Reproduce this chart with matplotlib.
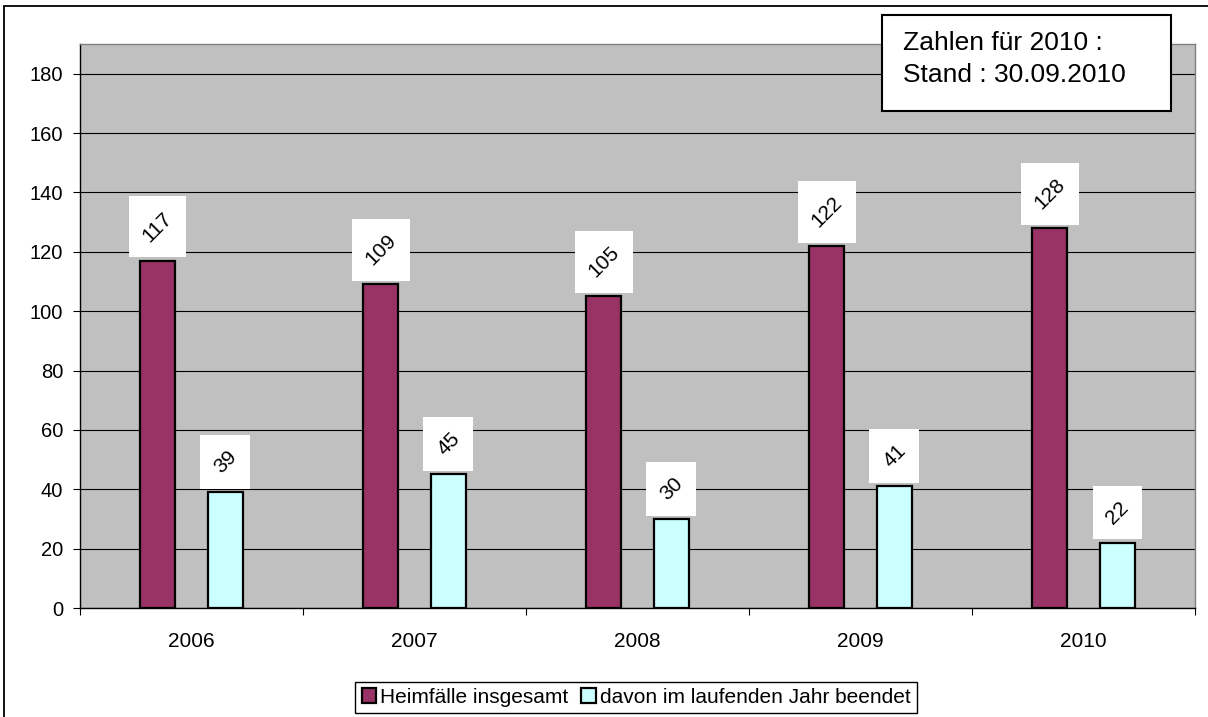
import matplotlib
matplotlib.use("Agg")
import matplotlib.pyplot as plt
import matplotlib.patches as mpatches
import matplotlib.transforms as mtransforms
import numpy as np

plt.rcParams['font.family'] = ['Liberation Sans', 'DejaVu Sans']

jahre = ["2006", "2007", "2008", "2009", "2010"]
heimfaelle = [117, 109, 105, 122, 128]
beendet = [39, 45, 30, 41, 22]

fig = plt.figure(figsize=(12.08, 7.17), dpi=100)
ax = fig.add_axes([80 / 1208, 1 - 608 / 717, (1195 - 80) / 1208, (608 - 44) / 717])
ax.set_facecolor("#C0C0C0")

x = np.arange(len(jahre))
breite = 0.157
versatz = 0.152
b1 = ax.bar(x - versatz, heimfaelle, breite, color="#993366", edgecolor="black",
            linewidth=1.6, zorder=3, label="Heimfälle insgesamt")
b2 = ax.bar(x + versatz, beendet, breite, color="#CCFFFF", edgecolor="black",
            linewidth=1.6, zorder=3, label="davon im laufenden Jahr beendet")

ax.set_xlim(-0.5, len(jahre) - 0.5)
ax.set_ylim(0, 190)
ax.set_yticks(range(0, 181, 20))
ax.yaxis.grid(True, color="black", linewidth=0.8)
ax.set_axisbelow(True)

ax.set_xticks(np.arange(-0.5, len(jahre), 1.0))
ax.set_xticklabels([])
ax.set_xticks(x, minor=True)
ax.set_xticklabels(jahre, minor=True)
ax.tick_params(axis="x", which="major", length=5, width=0.8, direction="out")
ax.tick_params(axis="x", which="minor", length=0, pad=17, labelsize=15)
ax.tick_params(axis="y", length=5, width=0.8, pad=7, labelsize=14.5)

ax.spines["top"].set_color("#808080")
ax.spines["right"].set_color("#808080")
ax.spines["left"].set_color("black")
ax.spines["bottom"].set_color("black")
for s in ax.spines.values():
    s.set_linewidth(1.0)

# Datenbeschriftungen, um 45 Grad gedreht, in weissen Kaestchen
texte = []
for bars, werte in ((b1, heimfaelle), (b2, beendet)):
    for rect, w in zip(bars, werte):
        t = ax.annotate(str(w), (rect.get_x() + rect.get_width() / 2, w),
                        xytext=(0, 11), textcoords="offset points",
                        ha="center", va="bottom", rotation=45, fontsize=15, zorder=5)
        texte.append(t)

fig.canvas.draw()
pad_x = 10
pad_y = 12
for t in texte:
    bb = t.get_window_extent()
    r = mpatches.Rectangle((bb.x0 - pad_x, bb.y0 - pad_y), bb.width + 2 * pad_x, bb.height + 2 * pad_y,
                           transform=mtransforms.IdentityTransform(), facecolor="white",
                           edgecolor="none", zorder=4, clip_on=False)
    ax.add_patch(r)

# Hinweiskasten oben rechts
kasten = mpatches.Rectangle((882, 717 - 111), 1171 - 882, 111 - 15,
                            transform=mtransforms.IdentityTransform(), facecolor="white",
                            edgecolor="black", linewidth=1.5, zorder=10)
fig.patches.append(kasten)
fig.text(903 / 1208, 1 - 50 / 717, "Zahlen für 2010 :",
         ha="left", va="baseline", fontsize=19, zorder=11)
fig.text(903 / 1208, 1 - 82 / 717, "Stand : 30.09.2010",
         ha="left", va="baseline", fontsize=19, zorder=11)

# Rahmen um das ganze Diagramm
rahmen = mpatches.Rectangle((4, -20), 1400, 717 - 6 + 20,
                            transform=mtransforms.IdentityTransform(), facecolor="none",
                            edgecolor="black", linewidth=1.3, zorder=0)
fig.patches.append(rahmen)

leg = fig.legend(loc="center", bbox_to_anchor=(636 / 1208, 1 - 697.5 / 717), ncol=2,
                 fontsize=15, handlelength=0.7, handleheight=0.7, handletextpad=0.2,
                 columnspacing=0.6, borderpad=0.3, fancybox=False, edgecolor="black",
                 framealpha=1)
leg.get_frame().set_linewidth(1.0)

fig.savefig("out.png", dpi=100)
